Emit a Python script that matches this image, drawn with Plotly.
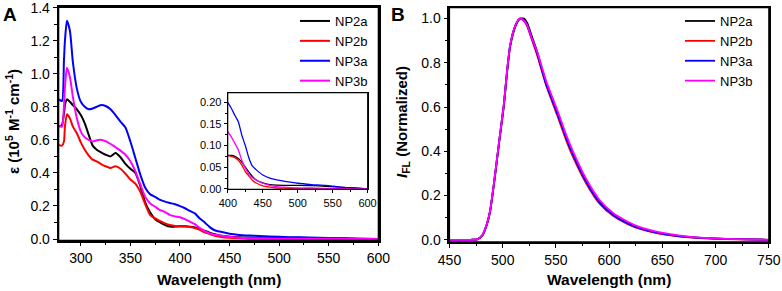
import plotly.graph_objects as go

# ---------------- Panel A: absorption (epsilon, 10^5 M^-1 cm^-1) ----------------
wl_abs = [278, 281, 283, 284, 286, 289, 292, 296, 300, 304, 308, 312, 316, 320, 325, 330,
          335, 340, 345, 350, 355, 360, 365, 370, 375, 380, 385, 390, 395, 400, 405, 410,
          415, 420, 425, 430, 435, 440, 450, 460, 470, 480, 500, 520, 540, 560, 580, 600]

abs_np2a = [0.68, 0.69, 0.76, 0.81, 0.845, 0.83, 0.81, 0.785, 0.75, 0.70, 0.63, 0.565, 0.54, 0.525, 0.51, 0.50,
            0.52, 0.495, 0.455, 0.425, 0.40, 0.32, 0.22, 0.16, 0.12, 0.10, 0.085, 0.075, 0.075, 0.077, 0.077, 0.075,
            0.07, 0.062, 0.05, 0.039, 0.029, 0.021, 0.014, 0.010, 0.0085, 0.008, 0.008, 0.0075, 0.006, 0.004, 0.002, 0.0]
abs_np2b = [0.57, 0.565, 0.59, 0.68, 0.755, 0.73, 0.68, 0.64, 0.585, 0.54, 0.505, 0.48, 0.47, 0.455, 0.44, 0.43,
            0.44, 0.425, 0.395, 0.36, 0.335, 0.285, 0.21, 0.145, 0.125, 0.108, 0.095, 0.085, 0.079, 0.077, 0.075, 0.072,
            0.066, 0.055, 0.04, 0.03, 0.02, 0.014, 0.007, 0.004, 0.002, 0.0015, 0.001, 0.0005, 0.0, 0.0, 0.0, 0.0]
abs_np3a = [0.845, 0.835, 1.08, 1.2, 1.32, 1.26, 1.07, 0.91, 0.83, 0.80, 0.785, 0.79, 0.80, 0.81, 0.805, 0.785,
            0.75, 0.71, 0.675, 0.59, 0.49, 0.39, 0.31, 0.27, 0.255, 0.237, 0.226, 0.218, 0.21, 0.199, 0.186, 0.17,
            0.155, 0.124, 0.10, 0.072, 0.053, 0.045, 0.032, 0.025, 0.021, 0.018, 0.013, 0.010, 0.008, 0.004, 0.002, 0.0]
abs_np3b = [0.685, 0.68, 0.80, 0.92, 1.036, 0.98, 0.86, 0.73, 0.65, 0.615, 0.60, 0.59, 0.597, 0.60, 0.592, 0.575,
            0.555, 0.535, 0.51, 0.47, 0.41, 0.33, 0.255, 0.215, 0.195, 0.175, 0.163, 0.145, 0.137, 0.132, 0.12, 0.105,
            0.09, 0.066, 0.048, 0.034, 0.026, 0.021, 0.013, 0.008, 0.005, 0.004, 0.002, 0.002, 0.001, 0.001, 0.0, 0.0]

# ---------------- Panel B: normalized fluorescence ----------------
wl_fl = [450, 470, 476, 481, 485, 488, 492, 497, 501, 504, 507, 512, 516, 520, 523, 527, 532, 541, 551, 560,
         566, 579, 591, 604, 617, 629, 648, 665, 679, 695, 710, 730, 750]

fl_np3b = [0, 0, 0.002, 0.022, 0.07, 0.128, 0.265, 0.459, 0.61, 0.76, 0.88, 0.97, 1.0, 0.99, 0.97, 0.915, 0.855,
           0.715, 0.59, 0.47, 0.40, 0.27, 0.18, 0.12, 0.083, 0.057, 0.033, 0.02, 0.012, 0.007, 0.0045, 0.002, 0]
fl_np2a = [0, 0, 0.002, 0.02, 0.066, 0.122, 0.258, 0.452, 0.60, 0.75, 0.872, 0.965, 0.998, 1.0, 0.98, 0.925, 0.855,
           0.705, 0.58, 0.46, 0.39, 0.262, 0.172, 0.114, 0.078, 0.053, 0.03, 0.018, 0.011, 0.0065, 0.004, 0.0015, 0]
fl_np2b = [0, 0, 0.002, 0.022, 0.07, 0.128, 0.265, 0.459, 0.61, 0.76, 0.88, 0.97, 1.0, 0.99, 0.965, 0.91, 0.84,
           0.695, 0.565, 0.445, 0.375, 0.25, 0.163, 0.107, 0.072, 0.049, 0.027, 0.016, 0.01, 0.006, 0.0035, 0.0015, 0]
fl_np3a = [0, 0, 0.002, 0.022, 0.07, 0.128, 0.265, 0.459, 0.61, 0.76, 0.88, 0.97, 1.0, 0.99, 0.97, 0.915, 0.848,
           0.70, 0.575, 0.455, 0.385, 0.257, 0.168, 0.111, 0.075, 0.051, 0.029, 0.017, 0.0105, 0.006, 0.004, 0.0015, 0]

names = ["NP2a", "NP2b", "NP3a", "NP3b"]
colors = ["#000000", "#FF0000", "#0000FF", "#FF00FF"]
abs_series = [abs_np2a, abs_np2b, abs_np3a, abs_np3b]
fl_series = [fl_np2a, fl_np2b, fl_np3a, fl_np3b]

FONT = "Liberation Sans, Arial, sans-serif"
W, H = 782, 291


def px_x(p):
    return p / W


def px_y(p):
    return (H - p) / H


fig = go.Figure()

for n, c, y in zip(names, colors, abs_series):
    fig.add_trace(go.Scatter(x=wl_abs, y=y, mode="lines", name=n, xaxis="x", yaxis="y",
                             line=dict(color=c, width=2, shape="spline", smoothing=0.6),
                             legend="legend"))
for n, c, y in zip(names, colors, abs_series):
    fig.add_trace(go.Scatter(x=wl_abs, y=y, mode="lines", name=n, xaxis="x3", yaxis="y3",
                             line=dict(color=c, width=1.3, shape="spline", smoothing=0.6),
                             showlegend=False))
for n, c, y in zip(names, colors, fl_series):
    fig.add_trace(go.Scatter(x=wl_fl, y=y, mode="lines", name=n, xaxis="x2", yaxis="y2",
                             line=dict(color=c, width=1.8, shape="spline", smoothing=0.6),
                             legend="legend2"))


def axis(**kw):
    base = dict(showline=True, linecolor="black", linewidth=1.6, mirror=True,
                ticks="outside", ticklen=4, tickwidth=1.3, tickcolor="black",
                showgrid=False, zeroline=False, tickmode="linear", automargin=False,
                tickfont=dict(family=FONT, size=14, color="black"))
    base.update(kw)
    return base


fig.update_layout(
    width=W, height=H, autosize=False,
    margin=dict(l=0, r=0, t=0, b=0, pad=0, autoexpand=False),
    paper_bgcolor="white", plot_bgcolor="rgba(255,255,255,0)",
    xaxis=axis(domain=[px_x(58.5), px_x(378.5)], range=[277.5, 600.2], tick0=300, dtick=50, anchor="y",
               minor=dict(ticks="outside", ticklen=2.5, dtick=25, tick0=275)),
    yaxis=axis(domain=[px_y(240.5), px_y(7.3)], range=[-0.009, 1.402], tick0=0, dtick=0.2,
               tickformat=".1f", anchor="x", ticklabeloverflow="allow",
               minor=dict(ticks="outside", ticklen=2.5, dtick=0.1, tick0=0)),
    xaxis2=axis(domain=[px_x(449.3), px_x(769)], range=[449.8, 750.2], tick0=450, dtick=50, anchor="y2",
                ticklabeloverflow="allow",
                minor=dict(ticks="outside", ticklen=2.5, dtick=25, tick0=450)),
    yaxis2=axis(domain=[px_y(242), px_y(7.5)], range=[-0.01, 1.05], tick0=0, dtick=0.2,
                tickformat=".1f", anchor="x2", ticklabeloverflow="allow",
                minor=dict(ticks="outside", ticklen=2.5, dtick=0.1, tick0=0)),
    xaxis3=axis(domain=[px_x(227.7), px_x(367.7)], range=[399.8, 600.2], tick0=400, dtick=50, anchor="y3",
                linewidth=1.2, ticklen=3, tickfont=dict(family=FONT, size=11, color="black"),
                minor=dict(ticks="outside", ticklen=2, dtick=25, tick0=400)),
    yaxis3=axis(domain=[px_y(189.3), px_y(92.7)], range=[-0.001, 0.222], tick0=0, dtick=0.05,
                tickformat=".2f", anchor="x3",
                linewidth=1.2, ticklen=3, tickfont=dict(family=FONT, size=11, color="black"),
                minor=dict(ticks="outside", ticklen=2, dtick=0.025, tick0=0)),
    legend=dict(x=px_x(295), y=px_y(6), xanchor="left", yanchor="top",
                bgcolor="rgba(0,0,0,0)", borderwidth=0, tracegroupgap=0,
                font=dict(family=FONT, size=13, color="black")),
    legend2=dict(x=px_x(680), y=px_y(6), xanchor="left", yanchor="top",
                 bgcolor="rgba(0,0,0,0)", borderwidth=0, tracegroupgap=0,
                 font=dict(family=FONT, size=13, color="black")),
)

# plot-area frames (domain-referenced boxes around both panels and the inset)
frames = []
for xr, yr, lw in [("x domain", "y domain", 1.6), ("x2 domain", "y2 domain", 1.6),
                   ("x3 domain", "y3 domain", 1.2)]:
    frames.append(dict(type="rect", xref=xr, yref=yr, x0=0, x1=1, y0=0, y1=1,
                       line=dict(color="black", width=lw), fillcolor="rgba(0,0,0,0)", layer="above"))
fig.update_layout(shapes=frames)

ann = [
    dict(text="<b>A</b>", x=px_x(1), y=px_y(2), xanchor="left", yanchor="top", font=dict(size=19)),
    dict(text="<b>B</b>", x=px_x(389), y=px_y(2), xanchor="left", yanchor="top", font=dict(size=19)),
    dict(text="<b>Wavelength (nm)</b>", x=px_x(218.5), y=px_y(279), xanchor="center", yanchor="middle",
         font=dict(size=15.5)),
    dict(text="<b>Wavelength (nm)</b>", x=px_x(609), y=px_y(279), xanchor="center", yanchor="middle",
         font=dict(size=15.5)),
    dict(text="<b>ε (10<sup>5</sup> M<sup>-1</sup> cm<sup>-1</sup>)</b>", x=px_x(13), y=px_y(122),
         xanchor="center", yanchor="middle", textangle=-90, font=dict(size=15)),
    dict(text="<b><i>I</i><sub>FL</sub> (Normalized)</b>", x=px_x(403), y=px_y(122),
         xanchor="center", yanchor="middle", textangle=-90, font=dict(size=15)),
]
for a in ann:
    a.update(xref="paper", yref="paper", showarrow=False)
    a["font"] = dict(family=FONT, color="black", **a["font"])
fig.update_layout(annotations=ann)

fig.write_html("out.html", config={"displayModeBar": False},
               post_script="document.body.style.margin='0';document.body.style.padding='0';")
